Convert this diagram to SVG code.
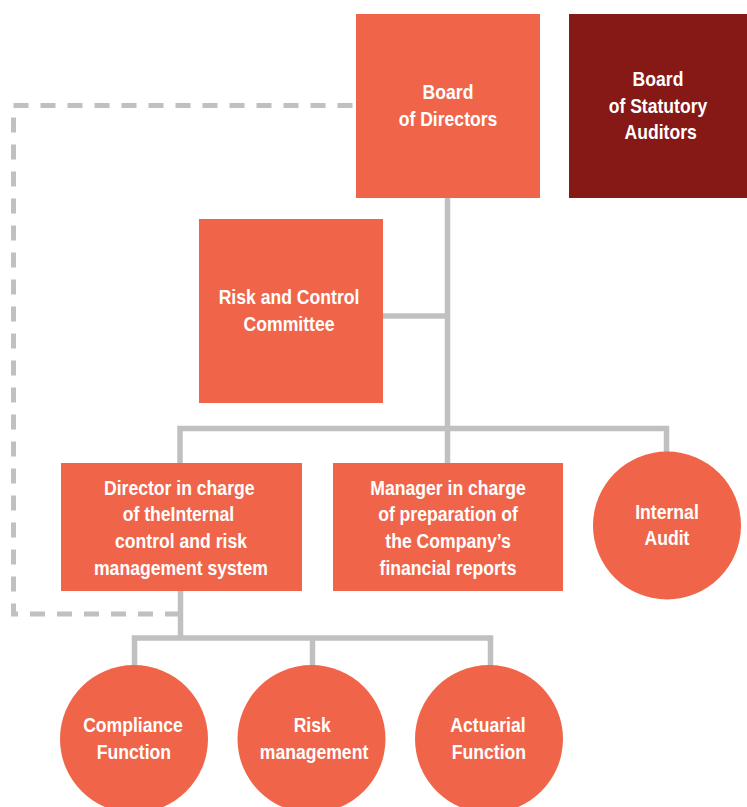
<svg xmlns="http://www.w3.org/2000/svg" width="747" height="807" viewBox="0 0 747 807">
<style>
.c{fill:none;stroke:#c0c0c0;stroke-width:5.5}
.d{fill:none;stroke:#c0c0c0;stroke-width:5;stroke-dasharray:15 12}
.n{fill:#f0654a}
.a{fill:#861816}
.t{font-family:"Liberation Sans",Arial,sans-serif;font-weight:bold;font-size:20px;fill:#ffffff;text-anchor:middle}
</style>
<rect width="747" height="807" fill="#ffffff"/>
<g id="connectors">
<path class="d" d="M180 614 H13.5 V105.5 H356"/>
<path class="c" d="M447.5 198 V463"/>
<path class="c" d="M383 316 H447.5"/>
<path class="c" d="M180 463 V428.5 H666.5 V452"/>
<path class="c" d="M180.5 591 V638"/>
<path class="c" d="M134.5 666 V638 H490.5 V666"/>
<path class="c" d="M312.5 638 V666"/>
</g>
<g id="board-of-directors">
<rect class="n" x="356" y="14" width="184" height="184"/>
<g transform="translate(448 0) scale(0.88 1)"><text class="t" x="0" y="99">Board</text><text class="t" x="0" y="126">of Directors</text></g>
</g>
<g id="board-of-statutory-auditors">
<rect class="a" x="569" y="14" width="178" height="184"/>
<g transform="translate(658 0) scale(0.88 1)"><text class="t" x="0" y="86">Board</text><text class="t" x="0" y="113">of Statutory</text><text class="t" x="3" y="139">Auditors</text></g>
</g>
<g id="risk-and-control-committee">
<rect class="n" x="199" y="219" width="184" height="184"/>
<g transform="translate(289 0) scale(0.88 1)"><text class="t" x="0" y="304">Risk and Control</text><text class="t" x="0" y="331">Committee</text></g>
</g>
<g id="director-internal-control">
<rect class="n" x="61" y="463" width="241" height="128"/>
<g transform="translate(181 0) scale(0.88 1)"><text class="t" x="-2" y="495">Director in charge</text><text class="t" x="-3" y="521">of theInternal</text><text class="t" x="0" y="548">control and risk</text><text class="t" x="0" y="575">management system</text></g>
</g>
<g id="manager-financial-reports">
<rect class="n" x="333" y="463" width="230" height="128"/>
<g transform="translate(448 0) scale(0.88 1)"><text class="t" x="0" y="495">Manager in charge</text><text class="t" x="0" y="521">of preparation of</text><text class="t" x="0" y="548">the Company’s</text><text class="t" x="0" y="575">financial reports</text></g>
</g>
<g id="internal-audit">
<circle class="n" cx="667" cy="525.5" r="74"/>
<g transform="translate(667 0) scale(0.88 1)"><text class="t" x="0" y="519">Internal</text><text class="t" x="0" y="545">Audit</text></g>
</g>
<g id="compliance-function">
<circle class="n" cx="134" cy="739" r="74"/>
<g transform="translate(133 0) scale(0.88 1)"><text class="t" x="0" y="732">Compliance</text><text class="t" x="1" y="759">Function</text></g>
</g>
<g id="risk-management">
<circle class="n" cx="311.5" cy="739" r="74"/>
<g transform="translate(314 0) scale(0.88 1)"><text class="t" x="-2" y="732">Risk</text><text class="t" x="0" y="759">management</text></g>
</g>
<g id="actuarial-function">
<circle class="n" cx="489" cy="739" r="74"/>
<g transform="translate(488 0) scale(0.88 1)"><text class="t" x="0" y="732">Actuarial</text><text class="t" x="1" y="759">Function</text></g>
</g>
</svg>
